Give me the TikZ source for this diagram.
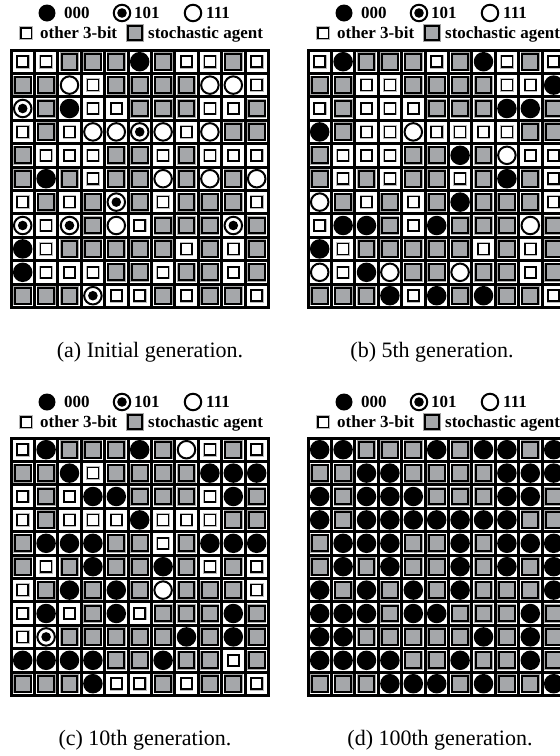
\documentclass[tikz,border=0pt]{standalone}
\usepackage{fontspec}
\setmainfont{Liberation Serif}
\definecolor{agentgray}{HTML}{A5A7AA}
\tikzset{
  cellbg/.style={shape=rectangle, fill=white, draw=none, minimum size=20.4pt, inner sep=0pt},
  cellS/.style={shape=rectangle, draw=black, line width=1.7pt, fill=white, minimum size=11pt, inner sep=0pt,
    preaction={draw=gray!55, line width=2.6pt}},
  cellG/.style={shape=rectangle, draw=black, line width=2.1pt, fill=agentgray, minimum size=15.8pt, inner sep=0pt,
    preaction={draw=gray!70, line width=3.1pt}},
  cellB/.style={shape=circle, fill=black, draw=none, minimum size=19.5pt, inner sep=0pt},
  cellO/.style={shape=circle, draw=black, line width=2pt, fill=white, minimum size=17.5pt, inner sep=0pt},
  cellD/.style={cellO, path picture={\fill[black] (path picture bounding box.center) circle (4.8pt);}},
  lab/.style={font=\bfseries\fontsize{17}{19}\selectfont, inner sep=0pt, anchor=base west},
  captext/.style={font=\fontsize{22}{26}\selectfont, inner sep=0pt, anchor=base},
}
\newcommand\drawgrid[4]{%
  \fill[black] (#2-1.5,#3-1.5) rectangle (#2+257.4+1.5,#3+257.4+1.5);
  \foreach \row [count=\r] in #4 {%
    \foreach \c [count=\k] in \row {%
      \node[cellbg] (#1bg-\r-\k) at (#2+\k*23.4-11.7, #3+\r*23.4-11.7) {};
      \node[cell\c] (#1-\r-\k) at (#1bg-\r-\k.center) {};
    }%
  }%
}
\newcommand\drawlegend[3]{% #1 name, #2 dx, #3 dy
  \node[cellB, minimum size=17pt] (#1l1) at (47+#2, 13+#3) {};
  \node[lab] (#1t1) at (64+#2, 18.5+#3) {000};
  \node[cellD, minimum size=16.5pt] (#1l2) at (122+#2, 13+#3) {};
  \node[lab] (#1t2) at (134+#2, 18.5+#3) {101};
  \node[cellO, minimum size=16.5pt] (#1l3) at (193+#2, 13+#3) {};
  \node[lab] (#1t3) at (206+#2, 18.5+#3) {111};
  \node[cellS, minimum size=10.5pt, line width=1.5pt] (#1l4) at (26+#2, 33+#3) {};
  \node[lab] (#1t4) at (40+#2, 38.5+#3) {other 3-bit};
  \node[cellG, minimum size=14pt, line width=1.8pt] (#1l5) at (135+#2, 33+#3) {};
  \node[lab] (#1t5) at (148+#2, 38.5+#3) {stochastic agent};
}
\def\gridA{{S,S,G,G,G,B,G,S,S,G,S},%
{G,G,O,S,G,G,G,G,O,O,S},%
{D,G,B,S,S,G,G,G,S,S,G},%
{S,G,S,O,O,D,O,S,O,G,G},%
{G,S,S,S,G,G,S,G,S,S,S},%
{G,B,G,S,G,G,O,G,O,G,O},%
{S,G,S,G,D,G,S,G,G,G,S},%
{D,S,D,G,O,S,G,G,G,D,G},%
{B,S,G,G,G,G,G,S,G,S,G},%
{B,S,S,S,G,G,S,G,G,S,G},%
{G,G,G,D,S,S,G,S,G,G,S}}
\def\gridB{{S,B,G,G,G,S,G,B,S,G,S},%
{G,G,S,S,G,G,G,G,S,S,B},%
{S,G,S,S,S,G,G,G,B,B,G},%
{B,G,S,S,O,S,S,S,S,G,G},%
{G,S,S,S,G,G,B,G,O,S,S},%
{G,S,G,S,G,G,S,G,B,G,S},%
{O,G,S,G,S,G,B,G,G,G,S},%
{S,B,B,G,S,B,G,G,G,O,G},%
{B,S,G,G,G,G,G,S,G,S,G},%
{O,S,B,O,G,G,O,G,G,S,G},%
{G,G,G,B,S,B,G,B,G,G,S}}
\def\gridC{{S,B,G,G,G,B,G,O,S,G,S},%
{G,G,B,S,G,G,G,G,B,B,B},%
{S,G,S,B,B,G,G,G,S,B,G},%
{S,G,S,S,S,B,S,S,S,G,G},%
{G,B,B,B,G,G,S,G,B,B,B},%
{G,S,G,B,G,G,B,G,S,G,S},%
{S,G,B,G,B,G,O,G,G,G,S},%
{S,B,S,G,B,S,G,G,G,B,G},%
{S,D,G,G,G,G,G,B,G,B,G},%
{B,B,B,B,G,G,B,G,G,S,G},%
{G,G,G,B,S,S,G,S,G,G,S}}
\def\gridD{{B,B,G,G,G,B,G,B,B,G,B},%
{G,G,B,B,G,G,G,G,B,B,B},%
{B,G,B,B,B,G,G,G,B,B,G},%
{B,G,B,B,B,B,B,B,B,G,G},%
{G,B,B,B,G,G,B,G,B,B,B},%
{G,B,G,B,G,G,B,G,B,G,B},%
{B,G,B,G,B,G,B,G,G,G,B},%
{B,B,B,G,B,B,G,G,G,B,G},%
{B,B,G,G,G,G,G,B,G,B,G},%
{B,B,B,B,G,G,B,G,G,B,G},%
{G,G,G,B,B,B,G,B,G,G,B}}
\begin{document}
\begin{tikzpicture}[x=1pt,y=-1pt]
  \useasboundingbox (0,0) rectangle (560,756);
  \clip (0,0) rectangle (560,756);
  \fill[white] (0,0) rectangle (560,756);
  \drawlegend{la}{0}{0}
  \drawlegend{lb}{297}{0}
  \drawlegend{lc}{0}{389}
  \drawlegend{ld}{297}{389}
  \drawgrid{a}{11}{50}{\gridA}
  \drawgrid{b}{308}{50}{\gridB}
  \drawgrid{c}{11}{438}{\gridC}
  \drawgrid{d}{308}{438}{\gridD}
  \node[captext] (capa) at (150,357) {(a) Initial generation.};
  \node[captext] (capb) at (432,357) {(b) 5th generation.};
  \node[captext] (capc) at (145,745) {(c) 10th generation.};
  \node[captext] (capd) at (440,745) {(d) 100th generation.};
\end{tikzpicture}
\end{document}
